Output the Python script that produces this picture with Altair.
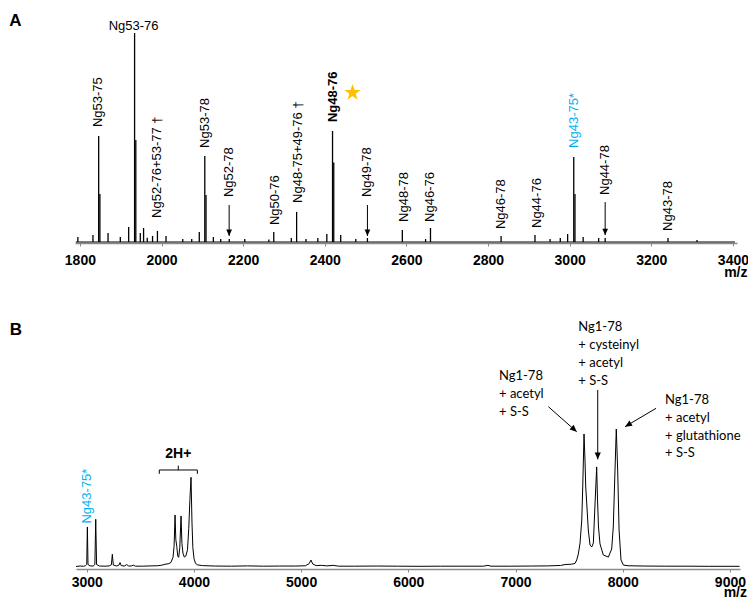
import altair as alt
import pandas as pd

# ---------------- data ----------------
# Panel A: peak list (m/z, relative intensity %)
a_mz = [1795, 1832, 1846, 1849, 1869, 1899, 1919.5, 1934, 1937, 1948, 1956, 1965, 1978,
        1990, 2011, 2052, 2074, 2092.5, 2106, 2109, 2127, 2145, 2166, 2204, 2263, 2275,
        2318, 2331, 2354, 2383, 2405, 2419, 2422, 2439, 2476, 2504.5, 2590, 2647, 2659,
        2832, 2915, 2952, 2977, 2995, 3010, 3013, 3033, 3071, 3087, 3241, 3312]
a_int = [2.4, 3.3, 50.7, 23.0, 4.3, 2.4, 7.2, 100.0, 48.8, 4.3, 6.7, 2.0, 2.9,
         5.3, 2.9, 1.4, 1.4, 4.8, 41.1, 22.5, 2.4, 1.4, 1.4, 1.4, 1.2, 4.8,
         1.9, 14.4, 1.4, 1.9, 3.8, 53.1, 38.0, 3.3, 1.4, 1.9, 5.7, 1.4, 6.7,
         2.9, 3.3, 1.4, 1.9, 3.8, 40.7, 23.0, 2.4, 1.9, 1.9, 1.9, 1.0]
a_span = [1790, 3405]

# Panel B: profile trace (m/z, relative intensity %)
b_mz = [2900, 2940, 2970, 2990, 3000, 3006, 3012, 3030, 3060, 3076, 3084, 3092, 3120, 3170,
        3210, 3230, 3239, 3248, 3280, 3300, 3311, 3322, 3350, 3373, 3392, 3420, 3435, 3455,
        3520, 3600, 3660, 3700, 3730, 3760, 3785, 3805, 3815, 3824, 3831, 3840, 3849, 3858,
        3868, 3880, 3888, 3898, 3910, 3925, 3940, 3952, 3962, 3973, 3982, 3990, 4001, 4015,
        4035, 4080, 4200, 4350, 4500, 4650, 4800, 4950, 5040, 5075, 5092, 5108, 5140, 5192,
        5240, 5298, 5350, 5500, 5700, 5900, 6100, 6300, 6500, 6700, 6743, 6770, 6950, 7150,
        7300, 7420, 7462, 7520, 7555, 7571, 7586, 7602, 7618, 7627, 7639, 7648, 7655, 7664,
        7679, 7695, 7711, 7726, 7742, 7757, 7765, 7774, 7788, 7819, 7866, 7897, 7912, 7928,
        7940, 7953, 7966, 7984, 8006, 8050, 8200, 8400, 8600, 8800, 9000, 9090]
b_int = [0.4, 0.7, 0.5, 1.0, 1.8, 29.0, 1.8, 0.8, 0.7, 1.8, 34.6, 1.8, 0.7, 0.6,
         0.8, 1.6, 9.2, 1.4, 0.7, 1.4, 3.2, 1.0, 0.7, 1.7, 0.7, 0.8, 1.3, 0.6,
         0.6, 0.8, 0.9, 1.3, 2.0, 2.3, 3.2, 7.0, 15.0, 37.7, 20.0, 15.0, 8.0, 7.0,
         14.0, 37.0, 17.0, 10.0, 7.2, 8.0, 12.5, 28.0, 48.0, 65.0, 32.0, 14.0, 6.0, 2.6,
         1.5, 1.0, 0.7, 0.6, 0.8, 0.6, 0.7, 0.7, 0.9, 2.5, 5.0, 2.2, 1.0, 1.2,
         0.8, 1.2, 0.6, 0.6, 0.7, 0.6, 0.5, 0.6, 0.6, 0.6, 1.2, 0.6, 0.6, 0.7,
         0.8, 1.1, 1.8, 2.0, 2.6, 5.1, 9.4, 17.4, 34.1, 58.0, 96.4, 77.5, 58.0, 46.4,
         26.8, 15.9, 14.5, 17.4, 46.4, 72.5, 48.6, 29.0, 16.7, 8.7, 7.2, 13.0, 29.0, 70.3,
         100.0, 70.3, 26.8, 5.1, 1.4, 0.9, 0.7, 0.6, 0.6, 0.5, 0.5, 0.5]

a_ticks = [1800, 2000, 2200, 2400, 2600, 2800, 3000, 3200, 3400]
b_ticks = [3000, 4000, 5000, 6000, 7000, 8000, 9000]

# Panel A annotations (rotated labels, in data coordinates)
a_lab_text = ["Ng53-75", "Ng52-76+53-77 †", "Ng53-78", "Ng52-78", "Ng50-76",
              "Ng48-75+49-76 †", "Ng49-78", "Ng48-78", "Ng46-76", "Ng46-78",
              "Ng44-76", "Ng44-78", "Ng43-78"]
a_lab_mz = [1845, 1988.4, 2106, 2165.7, 2277, 2334, 2504.5, 2594, 2659, 2832, 2919, 3087, 3241.6]
a_lab_y = [55.0, 11.5, 45.0, 21.5, 8.1, 18.7, 21.5, 9.6, 9.6, 6.2, 6.7, 22.5, 5.3]
a_top_label = ("Ng53-76", 1931.6, 103.4)
a_bold_label = ("Ng48-76", 2419, 57.4)
a_blue_label = ("Ng43-75*", 3010, 45.0)
a_star = (2468, 71.4)
a_arrow_mz = [2165.7, 2504.5, 3087]
a_arrow_y0 = [17.7, 17.7, 19.1]
a_arrow_y1 = [2.9, 2.9, 3.3]

# Panel B annotations
b_blue_label = ("Ng43-75*", 3000, 31.5)
b_2h = ("2H+", 3854, 82.0)
b_bracket_mz = [3677, 3677, 4032, 4032]
b_bracket_y = [67.5, 70.3, 70.3, 67.5]
b_btick = (3854, 70.3, 73.5)
b_blocks = ["Ng1-78\n+ acetyl\n+ S-S",
            "Ng1-78\n+ cysteinyl\n+ acetyl\n+ S-S",
            "Ng1-78\n+ acetyl\n+ glutathione\n+ S-S"]
b_block_mz = [6846, 7586, 8395]
b_block_y = [142.6, 177.9, 125.2]
b_arrow_mz0 = [7306, 7767, 8311]
b_arrow_y0 = [116.2, 128.3, 115.0]
b_arrow_mz1 = [7571, 7767, 8022]
b_arrow_y1 = [98.0, 78.0, 101.7]
b_arrow_ang = [311.5, 0, 59.3]

# ---------------- layout / style ----------------
W, H = 740, 592
FONT = "Liberation Sans"
FONT_B = "Lato"
BLUE = "#00B0F0"
GOLD = "#FFC000"
AXC = "#8a8a8a"
HEAD = "M0,0L-0.45,-1L0.45,-1Z"
STAR = ("M0,-1L0.2245,-0.309L0.9511,-0.309L0.3633,0.118L0.5878,0.809L0,0.382"
        "L-0.5878,0.809L-0.3633,0.118L-0.9511,-0.309L-0.2245,-0.309Z")


def make_axis(ticks, offset, pad, tx, ty):
    return alt.Axis(values=ticks, format="d", orient="bottom", offset=offset,
                    title="m/z", titleFont=FONT, titleFontSize=14, titleFontWeight="bold",
                    titleColor="black", titleAlign="right", titleBaseline="middle",
                    titleX=tx, titleY=ty, titleAngle=0,
                    labelFont=FONT, labelFontSize=14, labelFontWeight="bold",
                    labelColor="black", labelPadding=pad, labelFlush=False,
                    labelOverlap=False, tickSize=3, tickColor=AXC, tickWidth=1,
                    domainColor=AXC, domainWidth=1.5, grid=False)


axis_a = make_axis(a_ticks, 235 - H, 7, 739, 29)
axis_b = make_axis(b_ticks, 561 - H, 3, 738.5, 23)
sx_a = alt.Scale(domain=[1788, 3410], range=[67, 729], nice=False, zero=False)
sy_a = alt.Scale(domain=[0, 100], range=[234, 25], nice=False, zero=False)
sx_b = alt.Scale(domain=[2900, 9094], range=[68, 732], nice=False, zero=False)
sy_b = alt.Scale(domain=[0, 100], range=[559, 421], nice=False, zero=False)


def XA(f):
    return alt.X(f"{f}:Q", scale=sx_a, axis=axis_a)


def YA(f):
    return alt.Y(f"{f}:Q", scale=sy_a, axis=None)


def XB(f):
    return alt.X(f"{f}:Q", scale=sx_b, axis=axis_b)


def YB(f):
    return alt.Y(f"{f}:Q", scale=sy_b, axis=None)


# ---------------- panel A ----------------
dA = pd.DataFrame({"mz": a_mz, "v": a_int, "b": [0.0] * len(a_mz)})
sticks = alt.Chart(dA).mark_rule(color="black", strokeWidth=1.3).encode(
    x=XA("mz"), y=YA("b"), y2="v:Q")
base_a = alt.Chart(pd.DataFrame({"x0": [a_span[0]], "x1": [a_span[1]], "y": [0.0]})).mark_rule(
    color="black", strokeWidth=1).encode(x=XA("x0"), x2="x1:Q", y=YA("y"))

labs_a = alt.Chart(pd.DataFrame({"t": a_lab_text, "mz": a_lab_mz, "y": a_lab_y})).mark_text(
    angle=270, align="left", baseline="middle", font=FONT, fontSize=13, color="black").encode(
    x=XA("mz"), y=YA("y"), text="t:N")
top_a = alt.Chart(pd.DataFrame({"t": [a_top_label[0]], "mz": [a_top_label[1]], "y": [a_top_label[2]]})).mark_text(
    align="center", baseline="middle", font=FONT, fontSize=13, color="black").encode(
    x=XA("mz"), y=YA("y"), text="t:N")
bold_a = alt.Chart(pd.DataFrame({"t": [a_bold_label[0]], "mz": [a_bold_label[1]], "y": [a_bold_label[2]]})).mark_text(
    angle=270, align="left", baseline="middle", font=FONT, fontSize=13, fontWeight="bold",
    color="black").encode(x=XA("mz"), y=YA("y"), text="t:N")
blue_a = alt.Chart(pd.DataFrame({"t": [a_blue_label[0]], "mz": [a_blue_label[1]], "y": [a_blue_label[2]]})).mark_text(
    angle=270, align="left", baseline="middle", font=FONT, fontSize=13, color=BLUE).encode(
    x=XA("mz"), y=YA("y"), text="t:N")
star_a = alt.Chart(pd.DataFrame({"mz": [a_star[0]], "y": [a_star[1]]})).mark_point(
    shape=STAR, filled=True, fill=GOLD, color=GOLD, strokeWidth=0, size=300, opacity=1).encode(
    x=XA("mz"), y=YA("y"))
dArr = pd.DataFrame({"mz": a_arrow_mz, "y0": a_arrow_y0, "y1": a_arrow_y1})
arr_a = alt.Chart(dArr).mark_rule(color="black", strokeWidth=1).encode(
    x=XA("mz"), y=YA("y0"), y2="y1:Q")
head_a = alt.Chart(dArr).mark_point(shape=HEAD, filled=True, color="black", size=160,
                                    strokeWidth=0, opacity=1).encode(x=XA("mz"), y=YA("y1"))
letter_a = alt.Chart(pd.DataFrame({"t": ["A"]})).mark_text(
    font=FONT, fontSize=17, fontWeight="bold", color="black", align="center",
    baseline="middle").encode(x=alt.value(7.5), y=alt.value(13), text="t:N")

layer_a = alt.layer(base_a, sticks, labs_a, top_a, bold_a, blue_a, star_a, arr_a, head_a, letter_a)

# ---------------- panel B ----------------
dB = pd.DataFrame({"mz": b_mz, "v": b_int})
trace_b = alt.Chart(dB).mark_line(color="black", strokeWidth=1).encode(x=XB("mz"), y=YB("v"))
blue_b = alt.Chart(pd.DataFrame({"t": [b_blue_label[0]], "mz": [b_blue_label[1]], "y": [b_blue_label[2]]})).mark_text(
    angle=270, align="left", baseline="middle", font=FONT, fontSize=13, color=BLUE).encode(
    x=XB("mz"), y=YB("y"), text="t:N")
h2_b = alt.Chart(pd.DataFrame({"t": [b_2h[0]], "mz": [b_2h[1]], "y": [b_2h[2]]})).mark_text(
    align="center", baseline="middle", font=FONT, fontSize=14, fontWeight="bold",
    color="black").encode(x=XB("mz"), y=YB("y"), text="t:N")
brk_b = alt.Chart(pd.DataFrame({"mz": b_bracket_mz, "y": b_bracket_y,
                                "o": list(range(len(b_bracket_mz)))})).mark_line(
    color="black", strokeWidth=1).encode(x=XB("mz"), y=YB("y"), order="o:Q")
btick_b = alt.Chart(pd.DataFrame({"mz": [b_btick[0]], "y0": [b_btick[1]], "y1": [b_btick[2]]})).mark_rule(
    color="black", strokeWidth=1).encode(x=XB("mz"), y=YB("y0"), y2="y1:Q")
blocks_b = alt.Chart(pd.DataFrame({"t": b_blocks, "mz": b_block_mz, "y": b_block_y})).mark_text(
    align="left", baseline="top", font=FONT_B, fontSize=13, color="black",
    lineBreak="\n", lineHeight=17.7).encode(x=XB("mz"), y=YB("y"), text="t:N")
dArrB = pd.DataFrame({"mz0": b_arrow_mz0, "y0": b_arrow_y0, "mz1": b_arrow_mz1,
                      "y1": b_arrow_y1, "ang": b_arrow_ang})
arr_b = alt.Chart(dArrB).mark_rule(color="black", strokeWidth=1).encode(
    x=XB("mz0"), y=YB("y0"), x2="mz1:Q", y2="y1:Q")
head_b = alt.Chart(dArrB).mark_point(shape=HEAD, filled=True, color="black", size=190,
                                     strokeWidth=0, opacity=1).encode(
    x=XB("mz1"), y=YB("y1"), angle=alt.Angle("ang:Q", scale=None))
letter_b = alt.Chart(pd.DataFrame({"t": ["B"]})).mark_text(
    font=FONT, fontSize=17, fontWeight="bold", color="black", align="center",
    baseline="middle").encode(x=alt.value(7.8), y=alt.value(321.5), text="t:N")

layer_b = alt.layer(trace_b, blue_b, h2_b, brk_b, btick_b, blocks_b, arr_b, head_b, letter_b)

chart = alt.layer(layer_a, layer_b).resolve_scale(
    x="independent", y="independent").properties(
    width=W, height=H, padding=0, autosize=alt.AutoSizeParams(type="none")
).configure_view(strokeWidth=0)

chart.save("out.html", embed_options={"renderer": "svg", "actions": False})
